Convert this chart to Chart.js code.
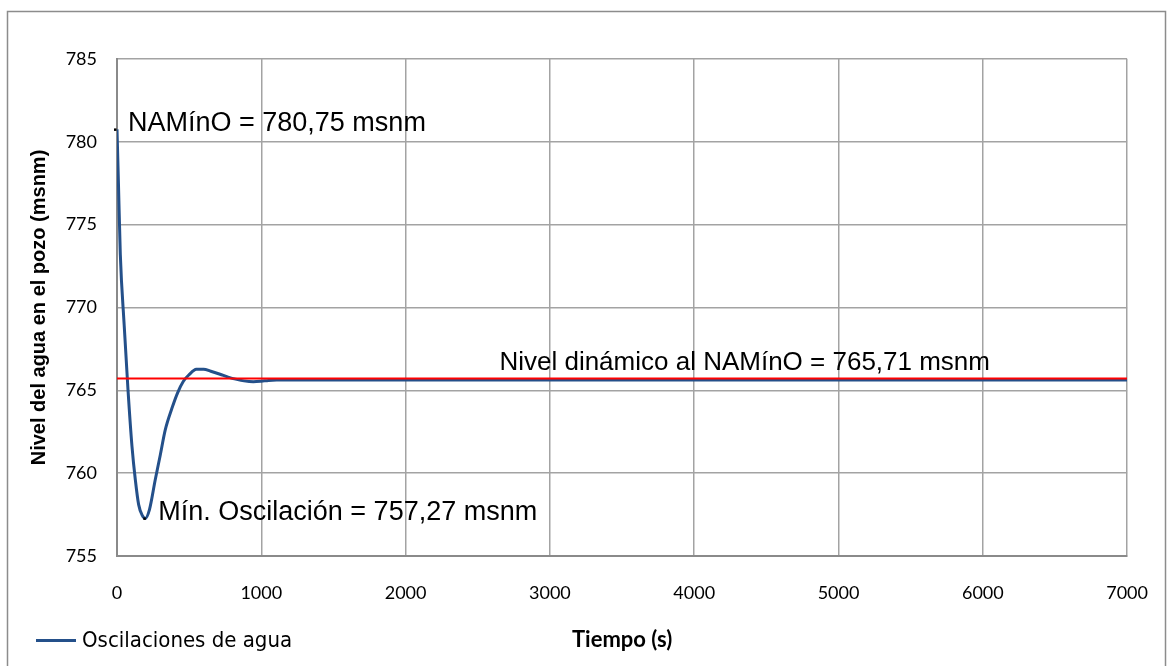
<!DOCTYPE html>
<html>
<head>
<meta charset="utf-8">
<script src="https://cdn.jsdelivr.net/npm/chart.js@4.4.1/dist/chart.umd.min.js"></script>
<style>
  html, body { margin: 0; padding: 0; background: #ffffff; }
  #wrap { width: 1174px; height: 666px; position: relative; }
</style>
</head>
<body>
<div id="wrap"><canvas id="c" width="1174" height="666"></canvas></div>
<script>
// ---- data ----
const timeS = [0, 10, 23, 50, 76, 104, 127, 150, 175, 196, 225, 265, 300, 334, 380, 420, 460, 500, 550, 600, 650, 714, 770, 830, 880, 945, 1000, 1050, 1106, 2000, 3000, 4000, 5000, 6000, 7000];
const levelM = [780.75, 777.5, 773.2, 768.9, 765.06, 761.6, 759.6, 758.1, 757.45, 757.27, 757.8, 759.6, 761.1, 762.6, 763.9, 764.85, 765.55, 765.95, 766.27, 766.28, 766.15, 765.97, 765.8, 765.66, 765.57, 765.52, 765.55, 765.6, 765.62, 765.62, 765.62, 765.62, 765.62, 765.62, 765.62];
const dynLevel = 765.71;
const dynX = [0, 7000];
const xTicks = [0, 1000, 2000, 3000, 4000, 5000, 6000, 7000];
const yTicks = [755, 760, 765, 770, 775, 780, 785];
const seriesName = 'Oscilaciones de agua';
const xTitle = 'Tiempo (s)';
const yTitle = 'Nivel del agua en el pozo (msnm)';
const noteMax = 'NAMínO = 780,75 msnm';
const noteMin = 'Mín. Oscilación = 757,27 msnm';
const noteDyn = 'Nivel dinámico al NAMínO = 765,71 msnm';
const maxPoint = {x: 0, y: 780.75};
const minPoint = {x: 196, y: 757.27};

const BLUE = '#24508a';
const GRID = '#a3a3a3';
const AXIS = '#8a8a8a';

const decor = {
  id: 'decor',
  beforeDraw(chart) {
    const ctx = chart.ctx;
    ctx.save();
    ctx.fillStyle = '#ffffff';
    ctx.fillRect(0, 0, chart.width, chart.height);
    ctx.strokeStyle = '#8c8c8c';
    ctx.lineWidth = 1.5;
    ctx.strokeRect(7.5, 11.5, 1158, 700);
    ctx.restore();
  },
  afterDraw(chart) {
    const ctx = chart.ctx;
    const xs = chart.scales.x, ys = chart.scales.y;
    ctx.save();
    // data-label anchor dots
    ctx.fillStyle = '#000000';
    const px0 = xs.getPixelForValue(maxPoint.x), py0 = ys.getPixelForValue(maxPoint.y);
    ctx.fillRect(px0 - 3, py0 - 1, 2.5, 2.5);
    const px1 = xs.getPixelForValue(minPoint.x), py1 = ys.getPixelForValue(minPoint.y);
    ctx.fillRect(px1 - 2, py1 - 1, 2.5, 2.5);
    // annotations
    ctx.fillStyle = '#000000';
    ctx.textBaseline = 'alphabetic';
    ctx.textAlign = 'left';
    ctx.font = '27px "Liberation Sans", Arial, sans-serif';
    ctx.fillText(noteMax, px0 + 11, py0 + 2);
    ctx.fillText(noteMin, px1 + 13, py1 + 2);
    ctx.font = '26px "Liberation Sans", Arial, sans-serif';
    const pyD = ys.getPixelForValue(dynLevel);
    ctx.fillText(noteDyn, xs.getPixelForValue(2650), pyD - 9);
    // legend
    ctx.strokeStyle = BLUE;
    ctx.lineWidth = 3;
    ctx.beginPath();
    ctx.moveTo(36, 640.5);
    ctx.lineTo(76, 640.5);
    ctx.stroke();
    ctx.font = '22px "Liberation Sans Narrow", "DejaVu Sans Condensed", sans-serif';
    ctx.fillText(seriesName, 82, 647);
    ctx.restore();
  }
};

new Chart(document.getElementById('c'), {
  type: 'line',
  data: {
    datasets: [
      {
        label: 'Nivel dinámico',
        data: dynX.map(x => ({x: x, y: dynLevel})),
        borderColor: '#ff0000',
        borderWidth: 2,
        pointRadius: 0,
        order: 0
      },
      {
        label: seriesName,
        data: timeS.map((t, i) => ({x: t, y: levelM[i]})),
        borderColor: BLUE,
        borderWidth: 3,
        pointRadius: 0,
        cubicInterpolationMode: 'monotone',
        order: 1
      }
    ]
  },
  options: {
    responsive: false,
    animation: false,
    events: [],
    layout: { padding: { top: 59, right: 45, left: 0, bottom: 0 } },
    plugins: { legend: { display: false }, tooltip: { enabled: false } },
    scales: {
      x: {
        type: 'linear',
        min: 0, max: 7000,
        afterBuildTicks: s => { s.ticks = xTicks.map(v => ({value: v})); },
        afterFit: s => { s.height = 110; },
        ticks: { color: '#000', font: { family: 'Lato', size: 18 }, padding: 26, maxRotation: 0, callback: v => String(v) },
        grid: { color: GRID, lineWidth: 1.5, drawTicks: false },
        border: { color: AXIS, width: 2 },
        title: { display: true, text: xTitle, color: '#000', font: { family: 'Lato', size: 22, weight: 'bold' }, padding: { top: 0, bottom: 13 } }
      },
      y: {
        type: 'linear',
        min: 755, max: 785,
        afterBuildTicks: s => { s.ticks = yTicks.map(v => ({value: v})); },
        afterFit: s => { s.width = 117; },
        ticks: { color: '#000', font: { family: 'Lato', size: 18 }, padding: 20, callback: v => String(v) },
        grid: { color: GRID, lineWidth: 1.5, drawTicks: false },
        border: { color: AXIS, width: 2 },
        title: { display: true, text: yTitle, color: '#000', font: { family: '"Liberation Sans", Arial', size: 20, weight: 'bold' }, padding: { top: 27, bottom: 0 } }
      }
    }
  },
  plugins: [decor]
});
</script>
</body>
</html>
